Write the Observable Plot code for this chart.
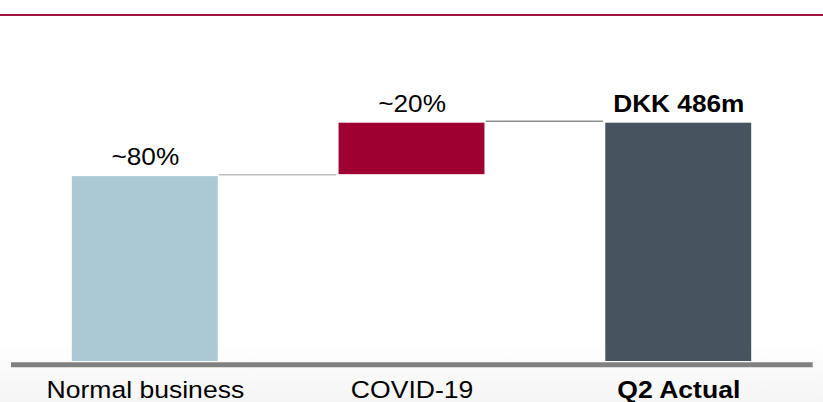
<!DOCTYPE html>
<html><head><meta charset="utf-8">
<script src="https://cdn.jsdelivr.net/npm/d3@7"></script>
<script src="https://cdn.jsdelivr.net/npm/@observablehq/plot@0.6"></script>
<style>
html,body{margin:0;padding:0;width:823px;height:402px;overflow:hidden;background:#fff;}
#wrap{position:relative;width:823px;height:402px;background:linear-gradient(to bottom,#fff 0,#fff 340px,#f5f5f5 402px);}
#topline{position:absolute;left:0;top:14px;width:823px;height:2px;background:#a0123e;}
#chart svg{transform-origin:0 0;transform:scaleX(1.1399);display:block;}
</style></head>
<body><div id="wrap"><div id="topline"></div><div id="chart"></div></div>
<script>
// ---- data ----
const categories = ["Normal business", "COVID-19", "Q2 Actual"];
const barStart = [0, 381, 0];
const barEnd = [377, 486, 486];
const valueLabels = ["~80%", "~20%", "DKK 486m"];
const connectorFrom = ["Normal business", "COVID-19"];
const connectorTo = ["COVID-19", "Q2 Actual"];
const connectorLevel = [377, 486];
const boldCategory = "Q2 Actual";
const boldValue = "DKK 486m";

// ---- styles ----
const barColors = ["#abc8d5", "#9e0032", "#47535e"];
const connectorColors = ["#c0c0c0", "#8f8f8f"];
const fontStack = "'Liberation Sans', Arial, Helvetica, sans-serif";

const rows = categories.map((c, i) => ({category: c, start: barStart[i], end: barEnd[i], label: valueLabels[i]}));
const links = connectorFrom.map((f, i) => ({from: f, to: connectorTo[i], level: connectorLevel[i], color: connectorColors[i]}));

function connectorMark(index, scales, values, dimensions, context) {
  const x = scales.x, y = scales.y;
  const bw = typeof x.bandwidth === "function" ? x.bandwidth() : 0;
  const g = d3.create("svg:g");
  for (const l of links) {
    g.append("line")
      .attr("x1", x(l.from) + bw + 1)
      .attr("x2", x(l.to) - 2)
      .attr("y1", y(l.level) - 1.4)
      .attr("y2", y(l.level) - 1.4)
      .attr("stroke", l.color)
      .attr("stroke-width", 1.5);
  }
  return g.node();
}

const chart = Plot.plot({
  width: 722,
  height: 402,
  marginLeft: 9.65,
  marginRight: 9.04,
  marginTop: 122.7,
  marginBottom: 41,
  x: {domain: categories, paddingInner: 0.4513, paddingOuter: 0.227, align: 0.5, axis: null},
  y: {domain: [0, 486], axis: null},
  color: {domain: categories, range: barColors},
  style: {fontFamily: fontStack, background: "transparent", color: "#000"},
  marks: [
    Plot.barY(rows, {x: "category", y1: "start", y2: "end", fill: "category"}),
    Plot.ruleY([0], {stroke: "#808080", strokeWidth: 5, dy: 3.2}),
    connectorMark,
    Plot.text(rows, {filter: d => d.label !== boldValue, x: "category", y: "end", text: "label",
      lineAnchor: "bottom", dy: -11.5, fontSize: 23, fill: "#000"}),
    Plot.text(rows, {filter: d => d.label === boldValue, x: "category", y: "end", text: "label",
      lineAnchor: "bottom", dy: -11.5, fontSize: 23, fontWeight: "bold", fill: "#000"}),
    Plot.text(rows, {filter: d => d.category !== boldCategory, x: "category", frameAnchor: "bottom", text: "category",
      lineAnchor: "bottom", dy: 36, fontSize: 23.3, fill: "#000"}),
    Plot.text(rows, {filter: d => d.category === boldCategory, x: "category", frameAnchor: "bottom", text: "category",
      lineAnchor: "bottom", dy: 36, fontSize: 23.3, fontWeight: "bold", fill: "#000"})
  ]
});
document.getElementById("chart").appendChild(chart);
</script>
</body></html>
